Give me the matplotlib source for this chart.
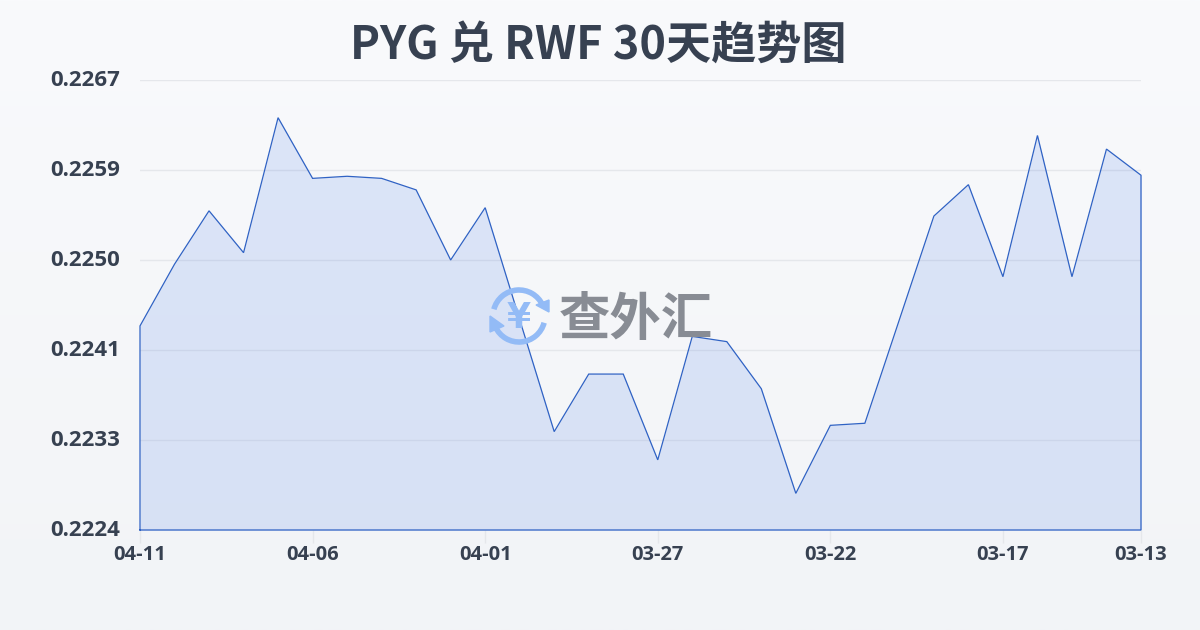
"""PYG to RWF 30-day trend chart."""

import matplotlib

matplotlib.use("Agg")

import matplotlib.pyplot as plt
import numpy as np
from matplotlib.patches import Arc, Polygon

plt.rcParams["font.family"] = ["Noto Sans CJK SC", "DejaVu Sans"]

TITLE = "PYG 兑 RWF 30天趋势图"
WATERMARK = "查外汇"

# newest date on the left, as in the source chart
rates = [
    0.22435, 0.22494, 0.22545, 0.22505, 0.22634, 0.22576, 0.22578, 0.22576,
    0.22565, 0.22498, 0.22548, 0.22441, 0.22334, 0.22389, 0.22389, 0.22307,
    0.22425, 0.22420, 0.22375, 0.22275, 0.22340, 0.22342, 0.22441, 0.22540,
    0.22570, 0.22482, 0.22617, 0.22482, 0.22604, 0.22579,
]
date_labels = ["04-11", "04-06", "04-01", "03-27", "03-22", "03-17", "03-13"]
date_positions = [0, 5, 10, 15, 20, 25, 29]
y_labels = ["0.2224", "0.2233", "0.2241", "0.2250", "0.2259", "0.2267"]
y_min = 0.2224
y_max = 0.2267

TEXT_COLOR = "#374151"
LINE_COLOR = "#2f62c4"
LOGO_COLOR = "#93bbf6"
WIDTH, HEIGHT = 1200, 630

fig = plt.figure(figsize=(WIDTH / 100, HEIGHT / 100), dpi=100)

# background gradient, pixel coordinates for the overlay pieces
bg = fig.add_axes([0, 0, 1, 1], zorder=0)
bg.imshow(
    np.linspace(0, 1, 256).reshape(-1, 1),
    extent=(0, WIDTH, HEIGHT, 0),
    aspect="auto",
    cmap=matplotlib.colors.LinearSegmentedColormap.from_list("bg", ["#f9fafc", "#f2f4f7"]),
)
bg.set_xlim(0, WIDTH)
bg.set_ylim(HEIGHT, 0)
bg.axis("off")

ax = fig.add_axes([140 / WIDTH, 1 - 530 / HEIGHT, 1001 / WIDTH, 450 / HEIGHT], zorder=1)
ax.patch.set_alpha(0)

x = np.arange(len(rates))
y_ticks = np.linspace(y_min, y_max, len(y_labels))
ax.fill_between(x, rates, y_min, color="#4a7de8", alpha=0.16, linewidth=0, zorder=2)
# outline closes along the sides and bottom of the area
ax.plot(
    np.r_[x[0], x, x[-1], x[0]],
    np.r_[y_min, rates, y_min, y_min],
    color=LINE_COLOR,
    linewidth=0.9,
    solid_joinstyle="miter",
    clip_on=False,
    zorder=5,
)

ax.set_xlim(0, len(rates) - 1)
ax.set_ylim(y_min, y_max)
ax.set_yticks(y_ticks, labels=[])
ax.set_xticks(date_positions, labels=[])
ax.grid(axis="y", color="#e5e7eb", linewidth=1)
ax.set_axisbelow(True)
for spine in ax.spines.values():
    spine.set_visible(False)
ax.tick_params(axis="y", length=0)
ax.tick_params(axis="x", length=9, width=1, color="#e5e7eb")

# tick labels placed by hand offset from the axis so the bold face is explicit
for value, label in zip(y_ticks, y_labels):
    ax.annotate(label, (0, value), xycoords=("axes fraction", "data"), xytext=(-14.5, 0),
                textcoords="offset points", ha="right", va="center", fontsize=16,
                fontweight="bold", family=["Open Sans", "DejaVu Sans"], color=TEXT_COLOR)
for pos, label in zip(date_positions, date_labels):
    ax.annotate(label, (pos, 0), xycoords=("data", "axes fraction"), xytext=(0, -18),
                textcoords="offset points", ha="center", va="center", fontsize=14.5,
                fontweight="bold", family=["Open Sans", "DejaVu Sans"], color=TEXT_COLOR)

fig.text(598 / WIDTH, 1 - 46 / HEIGHT, TITLE, ha="center", va="center", fontsize=32.5, fontweight="bold", color=TEXT_COLOR)

# watermark logo sits between the area and the line
over = fig.add_axes([0, 0, 1, 1], zorder=2)
over.patch.set_alpha(0)
over.set_xlim(0, WIDTH)
over.set_ylim(HEIGHT, 0)
over.axis("off")
cx, cy, r = 519, 316, 26
for start, end in [(195, 335), (15, 155)]:
    over.add_patch(Arc((cx, cy), 2 * r, 2 * r, theta1=start, theta2=end, color=LOGO_COLOR, linewidth=4))
over.add_patch(Polygon([[549, 300], [549, 312], [536, 305]], closed=True, color=LOGO_COLOR))
over.add_patch(Polygon([[490, 316], [490, 332], [504, 326]], closed=True, color=LOGO_COLOR))
over.text(cx, cy + 2, "¥", ha="center", va="center", fontsize=25, fontweight="bold", color=LOGO_COLOR,
          family=["DejaVu Sans"])
over.text(636, 320, WATERMARK, ha="center", va="center", fontsize=37, fontweight="bold", color="#888c94")

fig.savefig("out.png", dpi=100)
